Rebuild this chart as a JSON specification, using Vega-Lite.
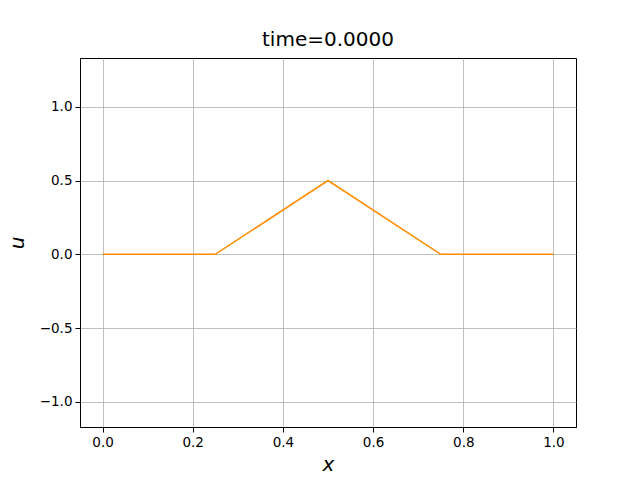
{
  "$schema": "https://vega.github.io/schema/vega-lite/v6.json",
  "width": 496,
  "height": 369,
  "autosize": {"type": "none"},
  "padding": {"left": 80, "top": 58, "right": 64, "bottom": 53},
  "background": "white",
  "title": {"text": "time=0.0000", "fontSize": 20, "font": "DejaVu Sans", "fontWeight": "normal", "color": "black", "offset": 8},
  "config": {
    "view": {"stroke": "black", "strokeWidth": 1},
    "axis": {
      "labelFont": "DejaVu Sans", "labelFontSize": 13.5, "labelColor": "black",
      "titleFont": "DejaVu Sans", "titleFontSize": 20, "titleFontStyle": "italic", "titleFontWeight": "normal", "titleColor": "black",
      "tickColor": "black", "tickSize": 5, "domainColor": "black",
      "gridColor": "#b0b0b0", "gridWidth": 0.8, "gridOpacity": 1, "labelPadding": 3
    }
  },
  "data": {"values": [
    {"x": 0.0, "u": 0.0},
    {"x": 0.25, "u": 0.0},
    {"x": 0.5, "u": 0.5},
    {"x": 0.75, "u": 0.0},
    {"x": 1.0, "u": 0.0}
  ]},
  "mark": {"type": "line", "color": "#ff8c00", "strokeWidth": 1.6},
  "encoding": {
    "x": {"field": "x", "type": "quantitative", "scale": {"domain": [-0.05, 1.05], "nice": false, "zero": false},
      "axis": {"values": [0, 0.2, 0.4, 0.6, 0.8, 1.0], "format": ".1f", "title": "x", "titlePadding": 6}},
    "y": {"field": "u", "type": "quantitative", "scale": {"domain": [-1.17, 1.33], "nice": false, "zero": false},
      "axis": {"values": [-1.0, -0.5, 0.0, 0.5, 1.0], "format": ".1f", "title": "u", "titlePadding": 12}}
  }
}
